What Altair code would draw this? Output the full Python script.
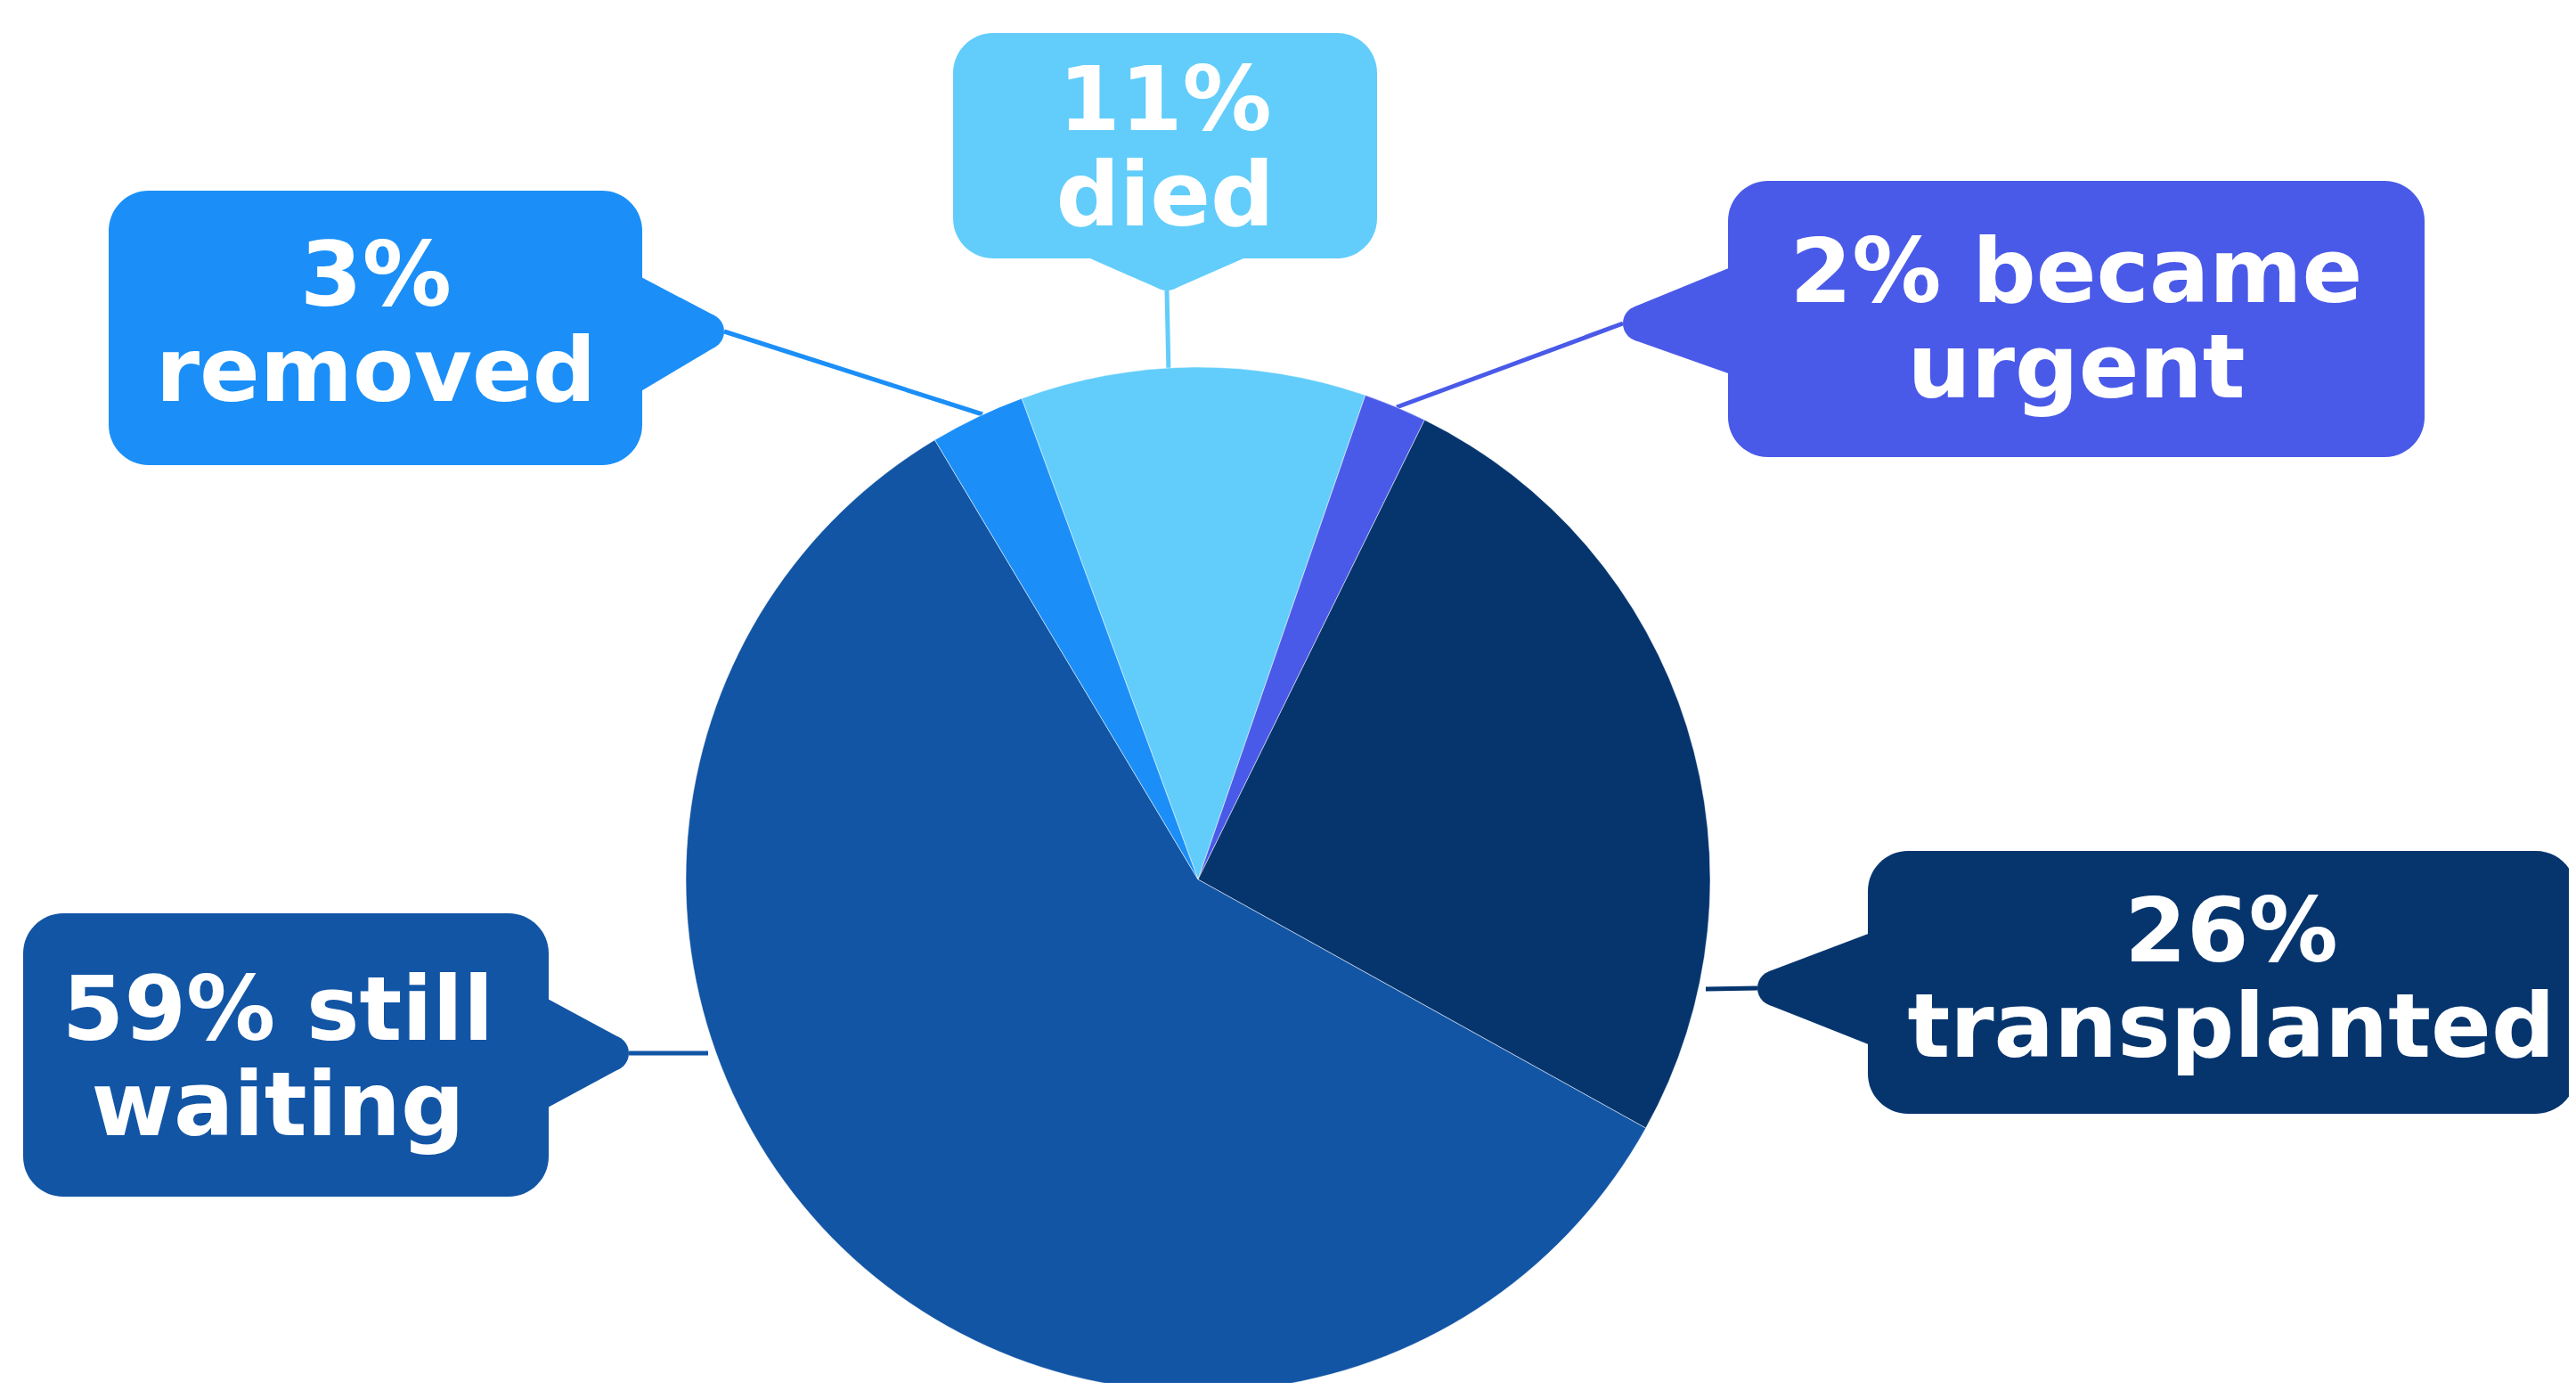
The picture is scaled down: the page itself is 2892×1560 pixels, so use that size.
import math
import altair as alt
import pandas as pd

# ---- data ----
categories = ["died", "became urgent", "transplanted", "still waiting", "removed"]
shares = [10.9, 2.0, 25.8, 58.4, 3.0]
label_line1 = ["11%", "2% became", "26%", "59% still", "3%"]
label_line2 = ["died", "urgent", "transplanted", "waiting", "removed"]
colors = ["#62CDFA", "#4A5AE8", "#06356E", "#1255A5", "#1B8FF7"]

# ---- layout (page pixels) ----
W, H = 2876, 1544
OFF = 8
CX, CY, R = 1345, 987, 575
START_DEG = -20.14

box_x0 = [1070, 1940, 2097, 26, 122]
box_x1 = [1546, 2722, 2892, 616, 721]
box_y0 = [37, 203, 955, 1025, 214]
box_y1 = [290, 513, 1250, 1343, 522]
ptr_side = ["down", "left", "left", "right", "right"]
ptr_base_c = [1310, 360, 1110, 1182, 375]   # centre of pointer base along box edge
ptr_half = [93, 60, 63, 62, 65]
tip_x = [1310, 1822, 1973, 706, 813]
tip_y = [326, 363, 1109, 1182, 372]
line_end_x = [1312, 1568, 1915, 795, 1103]
line_end_y = [420, 457, 1110, 1182, 465]
text_cx = [1308, 2331, 2505, 312, 422]
base1 = [146, 339, 1079, 1167, 343]
LINE_GAP = 107
FONT_SIZE = 100
TIP_R = 20


def p(v):
    return v - OFF


xs = alt.Scale(domain=[0, W], nice=False, zero=False)
ys = alt.Scale(domain=[0, H], nice=False, zero=False, reverse=True)
cs = alt.Scale(domain=categories, range=colors)

pie_df = pd.DataFrame({"category": categories, "share": shares, "idx": list(range(len(categories)))})

boxes_df = pd.DataFrame({
    "category": categories,
    "x0": [p(v) for v in box_x0], "x1": [p(v) for v in box_x1],
    "y0": [p(v) for v in box_y0], "y1": [p(v) for v in box_y1],
})

lines_df = pd.DataFrame({
    "category": categories,
    "x0": [p(v) for v in tip_x], "y0": [p(v) for v in tip_y],
    "x1": [p(v) for v in line_end_x], "y1": [p(v) for v in line_end_y],
})

text_df = pd.DataFrame({
    "category": categories,
    "t": [a + "\n" + b for a, b in zip(label_line1, label_line2)],
    "x": [p(v) for v in text_cx],
    "y": [p(v) for v in base1],
})


def rounded_pointer(hw, tip_dist, r):
    """Axial distances (from the base) of the tangent points and of the round tip's centre."""
    L = tip_dist
    for _ in range(50):
        a = math.atan2(hw, L)
        L = tip_dist + (r / math.sin(a) - r)
    a = math.atan2(hw, L)
    t_ax = L - r * math.cos(a) ** 2 / math.sin(a)
    t_hw = r * math.cos(a)
    c_ax = L - r / math.sin(a)
    return t_ax, t_hw, c_ax


vrows, hrows, circ = [], [], []
for i, c in enumerate(categories):
    s = ptr_side[i]
    if s in ("left", "right"):
        d = -1 if s == "left" else 1
        bx = box_x0[i] + 3 if s == "left" else box_x1[i] - 3
        t_ax, t_hw, c_ax = rounded_pointer(ptr_half[i], abs(tip_x[i] - bx), TIP_R)
        ty = tip_y[i]
        by = ptr_base_c[i]
        vrows.append({"category": c, "x": p(bx), "ya": p(by - ptr_half[i]), "yb": p(by + ptr_half[i])})
        vrows.append({"category": c, "x": p(bx + d * t_ax), "ya": p(ty - t_hw), "yb": p(ty + t_hw)})
        circ.append({"category": c, "x": p(bx + d * c_ax), "y": p(ty)})
    else:
        by = box_y1[i] - 3
        t_ax, t_hw, c_ax = rounded_pointer(ptr_half[i], abs(tip_y[i] - by), TIP_R)
        tx = tip_x[i]
        bc = ptr_base_c[i]
        hrows.append({"category": c, "y": p(by), "xa": p(bc - ptr_half[i]), "xb": p(bc + ptr_half[i])})
        hrows.append({"category": c, "y": p(by + t_ax), "xa": p(tx - t_hw), "xb": p(tx + t_hw)})
        circ.append({"category": c, "x": p(tx), "y": p(by + c_ax)})
vptr_df = pd.DataFrame(vrows)
hptr_df = pd.DataFrame(hrows)
circ_df = pd.DataFrame(circ)

color_enc = alt.Color("category:N", scale=cs, legend=None)

connectors = alt.Chart(lines_df).mark_rule(strokeWidth=5).encode(
    x=alt.X("x0:Q", scale=xs, axis=None), y=alt.Y("y0:Q", scale=ys, axis=None),
    x2="x1:Q", y2="y1:Q", color=color_enc,
)

start = math.radians(START_DEG)
pie = alt.Chart(pie_df).mark_arc(outerRadius=R, stroke="#ffffff", strokeWidth=1, strokeOpacity=0.5).encode(
    theta=alt.Theta("share:Q", stack=True, scale=alt.Scale(range=[start, start + 2 * math.pi])),
    order=alt.Order("idx:Q"),
    color=color_enc,
    x=alt.value(p(CX)), y=alt.value(p(CY)),
)

boxes = alt.Chart(boxes_df).mark_rect(cornerRadius=45).encode(
    x=alt.X("x0:Q", scale=xs, axis=None), x2="x1:Q",
    y=alt.Y("y0:Q", scale=ys, axis=None), y2="y1:Q",
    color=color_enc,
)

vptr = alt.Chart(vptr_df).mark_area(orient="vertical").encode(
    x=alt.X("x:Q", scale=xs, axis=None),
    y=alt.Y("ya:Q", scale=ys, axis=None, stack=None), y2="yb:Q",
    color=color_enc, detail="category:N",
)

hptr = alt.Chart(hptr_df).mark_area(orient="horizontal").encode(
    y=alt.Y("y:Q", scale=ys, axis=None),
    x=alt.X("xa:Q", scale=xs, axis=None, stack=None), x2="xb:Q",
    color=color_enc, detail="category:N",
)

tips = alt.Chart(circ_df).mark_point(filled=True, shape="circle", opacity=1, size=4 * TIP_R * TIP_R, strokeWidth=0).encode(
    x=alt.X("x:Q", scale=xs, axis=None), y=alt.Y("y:Q", scale=ys, axis=None),
    color=color_enc,
)

texts = alt.Chart(text_df).mark_text(
    font="DejaVu Sans", fontWeight="bold", fontSize=FONT_SIZE, color="#ffffff",
    align="center", baseline="alphabetic", lineBreak="\n", lineHeight=LINE_GAP,
).encode(
    x=alt.X("x:Q", scale=xs, axis=None), y=alt.Y("y:Q", scale=ys, axis=None),
    text="t:N",
)

chart = alt.layer(connectors, pie, boxes, vptr, hptr, tips, texts).properties(
    width=W, height=H, padding=0, autosize=alt.AutoSizeParams(type="none"),
).configure_view(stroke=None)

chart.save("out.html", embed_options={"renderer": "svg", "actions": False})
